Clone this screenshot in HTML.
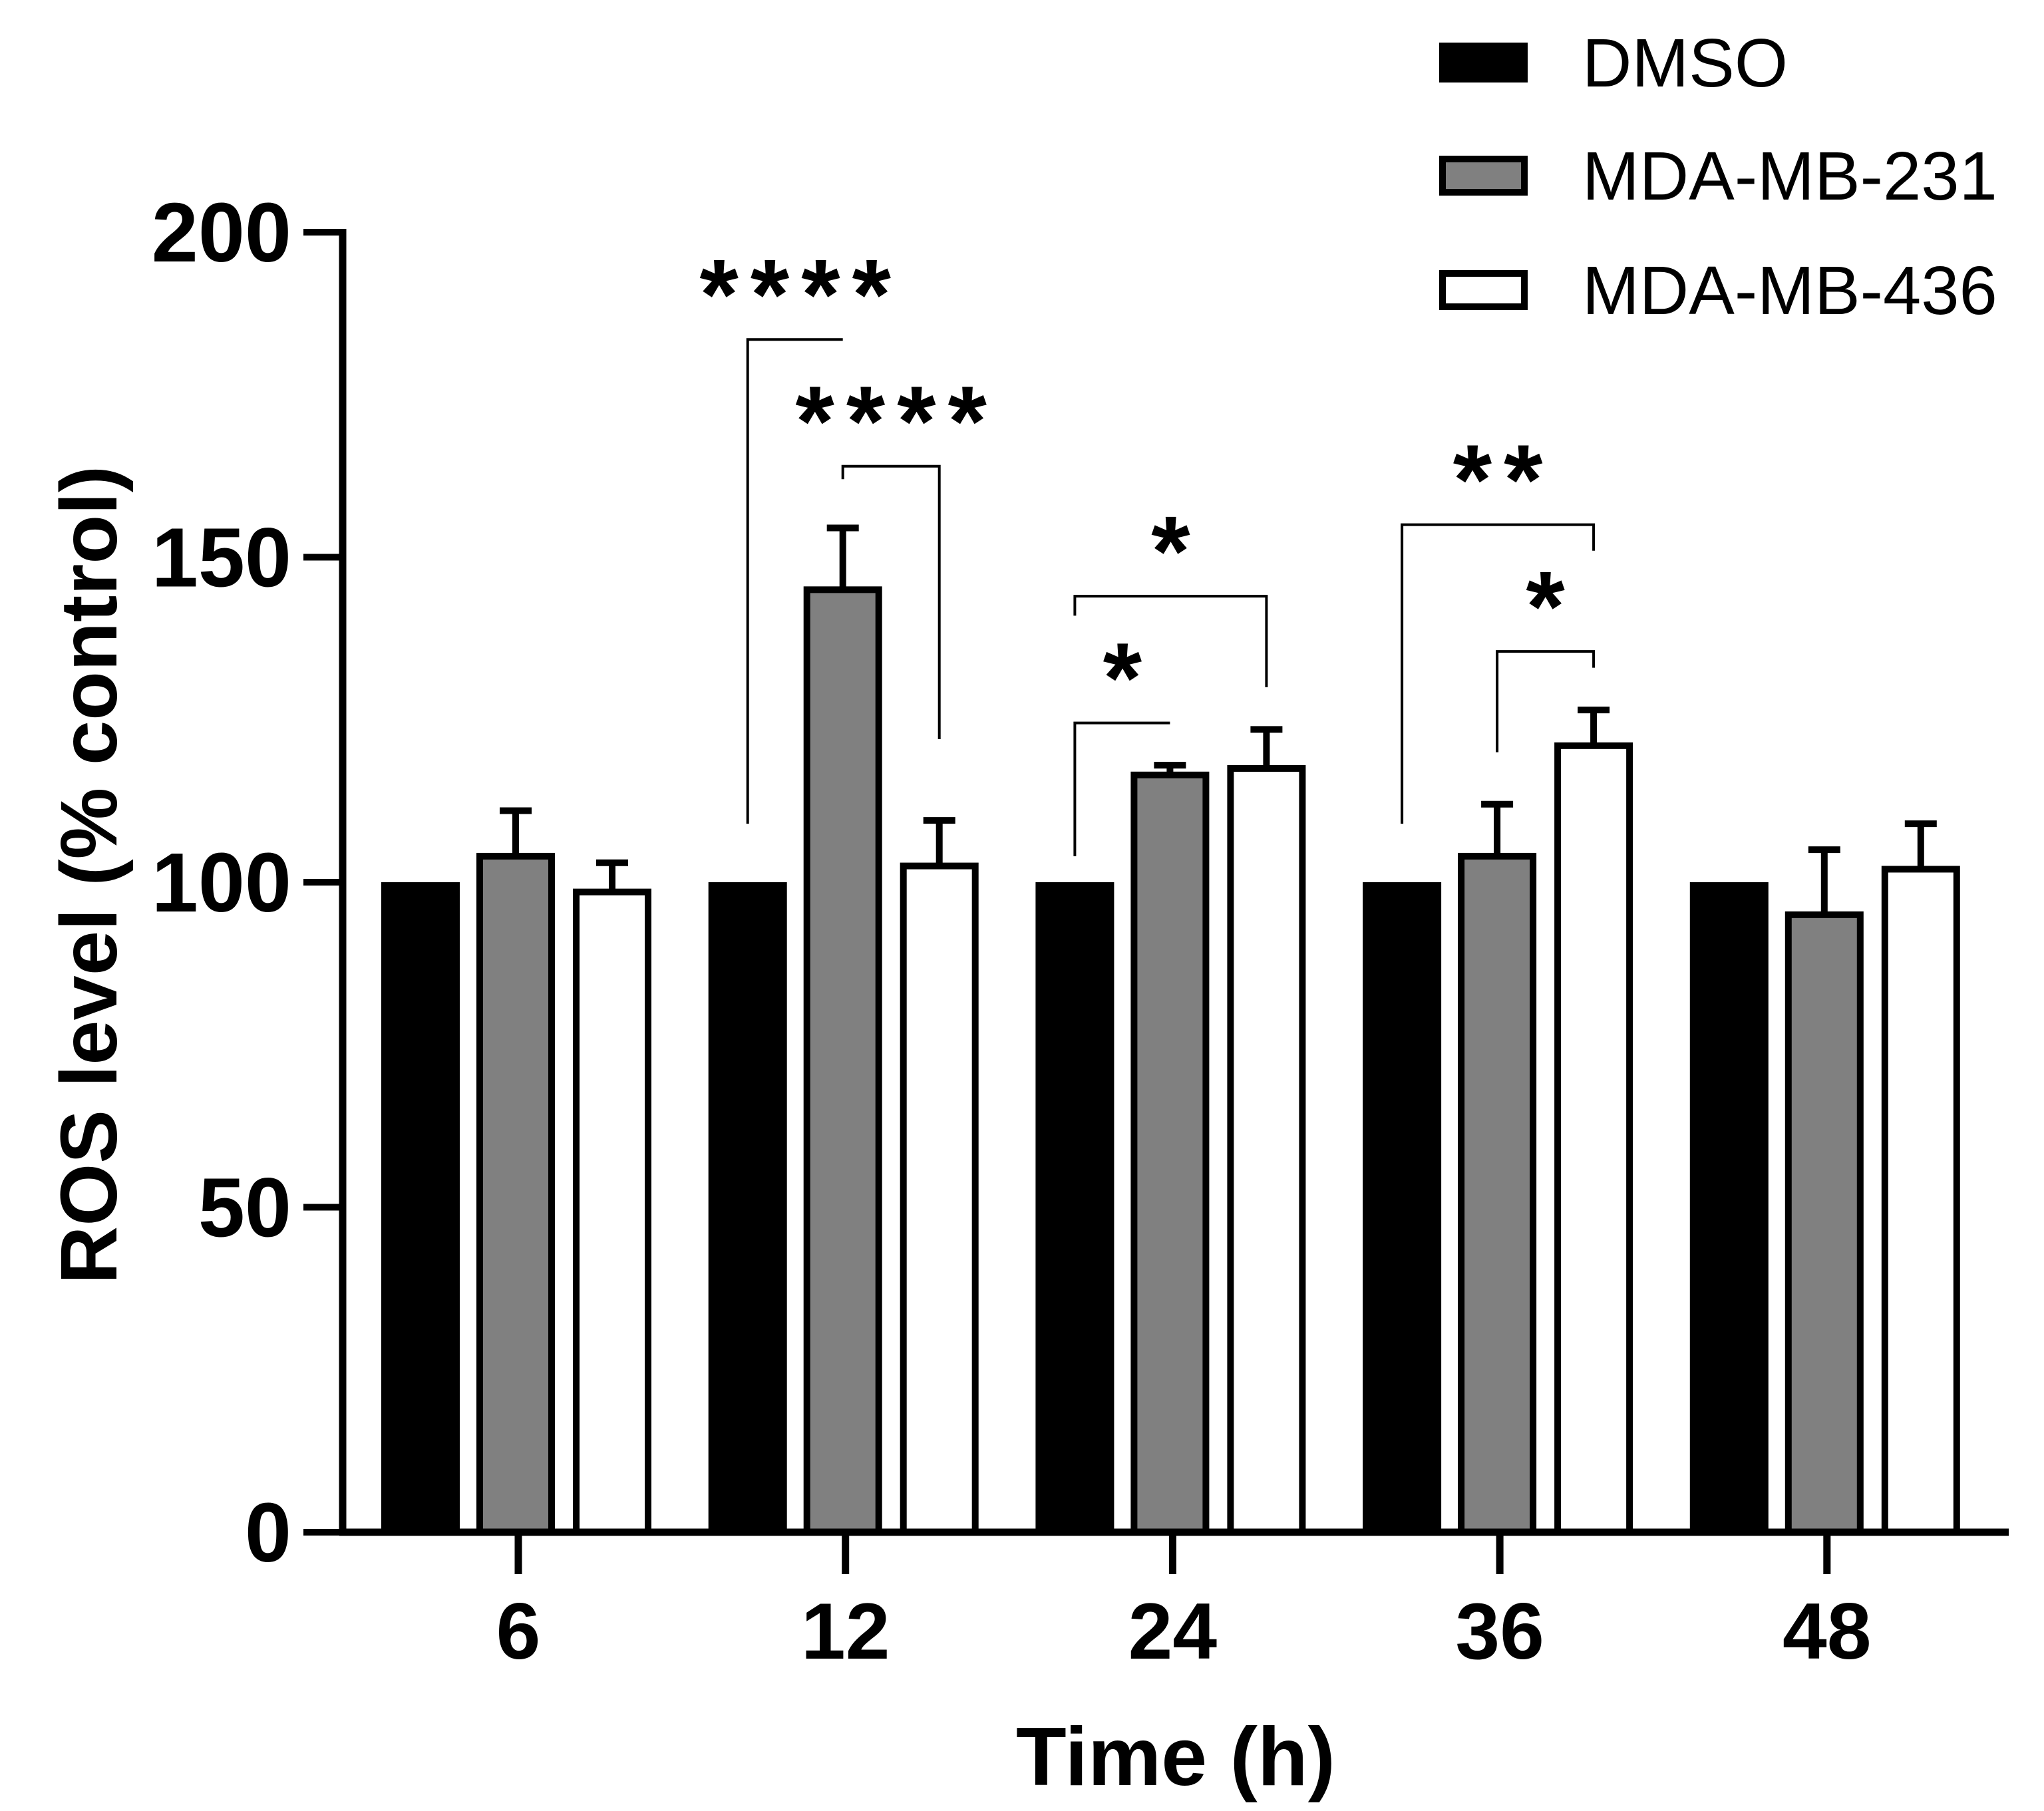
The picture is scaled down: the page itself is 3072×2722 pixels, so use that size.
<!DOCTYPE html>
<html><head><meta charset="utf-8"><style>
html,body{margin:0;padding:0;background:#fff}
svg{display:block}
text{font-family:"Liberation Sans",Arial,sans-serif}
</style></head><body>
<svg id="chart" width="3072" height="2722" viewBox="0 0 3072 2722" xmlns="http://www.w3.org/2000/svg">
<g id="plot"></g>
</svg>
<script>
const categories = ["6","12","24","36","48"];
const seriesNames = ["DMSO","MDA-MB-231","MDA-MB-436"];
const dmso = [100,100,100,100,100];
const mb231 = [104,145,116.5,104,95];
const mb231Err = [7,9.5,1.5,8,10];
const mb436 = [98.5,102.5,117.5,121,102];
const mb436Err = [4.5,7,6,5.5,7];
const yTicks = [0,50,100,150,200];
// brackets: group index, series from, series to, left foot value, right foot value, top value, label
const bracketGroups = [1,1,2,2,3,3];
const bracketFrom = [0,1,0,0,0,1];
const bracketTo = [1,2,1,2,2,2];
const bracketLeftFoot = [109,162,104,141,109,120];
const bracketRightFoot = [183.5,122,124.5,130,151,133];
const bracketTop = [183.5,164,124.5,144,155,135.5];
const bracketLabels = ["****","****","*","*","**","*"];

const NS="http://www.w3.org/2000/svg";
const g=document.getElementById('plot');
const X0=515, XEND=3019, Y0=2303, Y200=349;
function yScale(v){return Y0-(Y0-Y200)*v/200;}
function xGroup(i){return 779+i*491.7;}
const offsets=[-147,-4,141];
function xBar(i,s){return xGroup(i)+offsets[s];}
const BW=118;
function mk(tag,attrs){const e=document.createElementNS(NS,tag);for(const k in attrs)e.setAttribute(k,attrs[k]);g.appendChild(e);return e;}

const vals=[dmso,mb231,mb436], errs=[null,mb231Err,mb436Err];
const fills=["#000","#808080","#fff"];
for(let s=0;s<3;s++){for(let i=0;i<categories.length;i++){
  const v=vals[s][i], cx=xBar(i,s), top=yScale(v);
  if(errs[s]){
    const et=yScale(v+errs[s][i]);
    const el=mk('line',{x1:cx,x2:cx,y1:top,y2:et,stroke:'#000','stroke-width':10});
    
    
    const cap=mk('line',{x1:cx-24,x2:cx+24,y1:et,y2:et,stroke:'#000','stroke-width':10});
    
    
  }
  const r=mk('rect',{x:cx-BW/2+5,y:top,width:BW-10,height:Y0-top,fill:fills[s],stroke:'#000','stroke-width':s===0?0:10});
  if(s===0){r.setAttribute('x',cx-BW/2);r.setAttribute('width',BW);}
  
  
}}

let a=mk('line',{x1:X0,x2:X0,y1:Y200-5,y2:Y0+5,stroke:'#000','stroke-width':11});


a=mk('line',{x1:X0-5,x2:XEND,y1:Y0,y2:Y0,stroke:'#000','stroke-width':11});


yTicks.forEach(t=>{
  const y=yScale(t);
  const l=mk('line',{x1:456,x2:X0,y1:y,y2:y,stroke:'#000','stroke-width':10});
  
  
  const tx=mk('text',{x:438,y:y+44,'text-anchor':'end','font-size':126,'font-weight':'bold'});
  tx.textContent=t;
  
  
});
categories.forEach((c,i)=>{
  const x=xGroup(i);
  const l=mk('line',{x1:x,x2:x,y1:Y0,y2:2366,stroke:'#000','stroke-width':11});
  
  
  const tx=mk('text',{x:x,y:2493,'text-anchor':'middle','font-size':120,'font-weight':'bold'});
  tx.textContent=c;
  
  
});
let t=mk('text',{x:1767,y:2683,'text-anchor':'middle','font-size':124,'font-weight':'bold'});
t.textContent='Time (h)';


t=mk('text',{x:0,y:0,'text-anchor':'middle','font-size':121,'font-weight':'bold',transform:'translate(175,1315) rotate(-90)'});
t.textContent='ROS level (% control)';



for(let k=0;k<bracketLabels.length;k++){
  const gi=bracketGroups[k];
  const xl=xBar(gi,bracketFrom[k]);
  const xr=xBar(gi,bracketTo[k]);
  const yt=yScale(bracketTop[k]);
  const p=mk('polyline',{points:`${xl},${yScale(bracketLeftFoot[k])} ${xl},${yt} ${xr},${yt} ${xr},${yScale(bracketRightFoot[k])}`,fill:'none',stroke:'#000','stroke-width':4});
  
  
  const s=mk('text',{x:(xl+xr)/2+9,y:yt-16,'text-anchor':'middle','font-size':150,'font-weight':'bold','letter-spacing':18});
  s.textContent=bracketLabels[k];
  
  
}

const legY=[64,234,406];
seriesNames.forEach((n,s)=>{
  const r=mk('rect',{x:s===0?2163:2168,y:legY[s]+(s===0?0:5),width:s===0?133:123,height:s===0?60:50,fill:fills[s],stroke:'#000','stroke-width':s===0?0:10});
  
  
  const tx=mk('text',{x:2378,y:legY[s]+66,'font-size':103});
  tx.textContent=n;
  
  
});
</script>
</body></html>
